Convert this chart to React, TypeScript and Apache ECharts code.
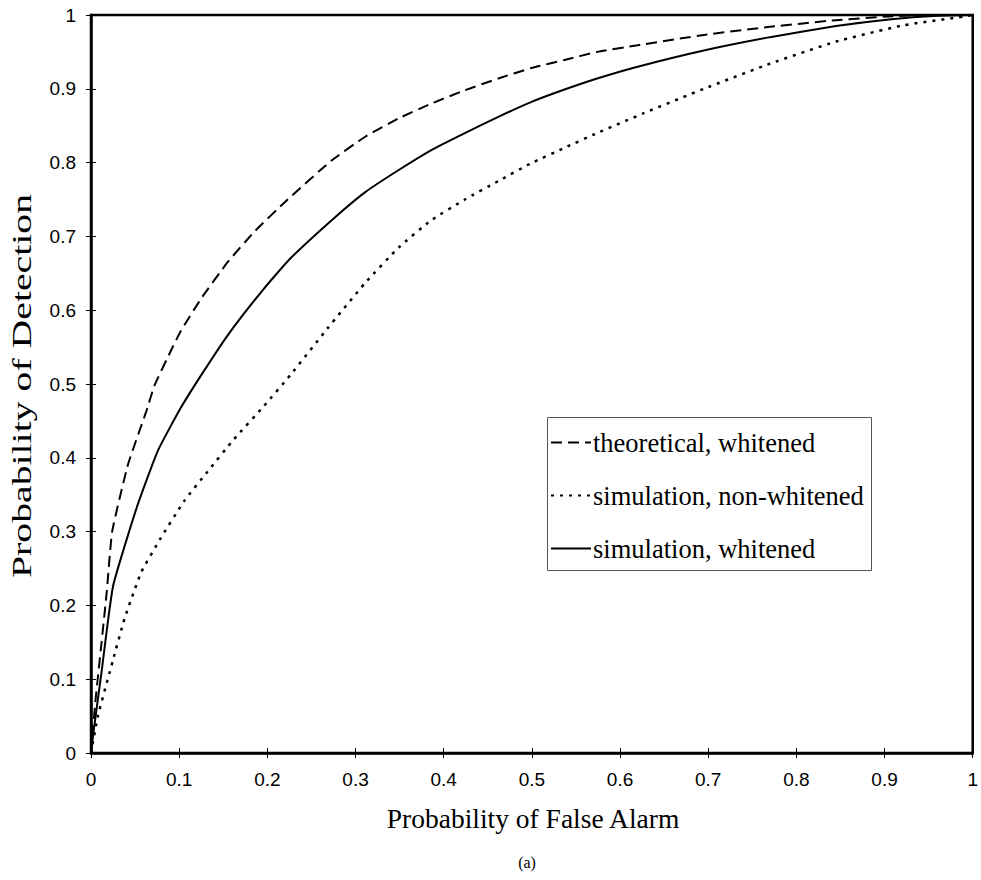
import React, { useEffect, useRef } from "react";
import * as echarts from "echarts";

// ---- data ----
const thX = [0, 0.005, 0.012, 0.018, 0.024, 0.042, 0.063, 0.072, 0.091, 0.102, 0.125, 0.155, 0.185, 0.223, 0.273, 0.311, 0.349, 0.386, 0.424, 0.462, 0.499, 0.537, 0.574, 0.62, 0.695, 0.77, 0.845, 0.905, 0.95, 1];
const thY = [0, 0.07, 0.15, 0.22, 0.3, 0.391, 0.464, 0.498, 0.546, 0.572, 0.616, 0.665, 0.706, 0.75, 0.803, 0.835, 0.86, 0.88, 0.898, 0.914, 0.928, 0.939, 0.95, 0.959, 0.973, 0.984, 0.993, 0.998, 1.0, 1];

const swX = [0, 0.003, 0.012, 0.025, 0.052, 0.076, 0.102, 0.125, 0.155, 0.196, 0.226, 0.273, 0.311, 0.349, 0.386, 0.424, 0.462, 0.499, 0.537, 0.574, 0.62, 0.695, 0.77, 0.845, 0.905, 0.96, 1];
const swY = [0, 0.03, 0.11, 0.226, 0.333, 0.41, 0.468, 0.512, 0.566, 0.629, 0.67, 0.722, 0.76, 0.79, 0.817, 0.84, 0.862, 0.882, 0.899, 0.914, 0.93, 0.952, 0.97, 0.985, 0.994, 0.999, 1];

const snX = [0, 0.008, 0.025, 0.038, 0.057, 0.078, 0.106, 0.132, 0.162, 0.196, 0.226, 0.268, 0.311, 0.349, 0.386, 0.424, 0.462, 0.499, 0.537, 0.574, 0.627, 0.695, 0.77, 0.845, 0.921, 0.99, 1];
const snY = [0, 0.051, 0.126, 0.182, 0.245, 0.289, 0.342, 0.381, 0.425, 0.47, 0.512, 0.575, 0.637, 0.685, 0.722, 0.75, 0.775, 0.799, 0.82, 0.84, 0.867, 0.9, 0.934, 0.964, 0.986, 0.998, 1];

const seriesNames = ["theoretical, whitened", "simulation, non-whitened", "simulation, whitened"];
const xTitle = "Probability of False Alarm";
const yTitle = "Probability of Detection";
const caption = "(a)";

const pairs = (xs: number[], ys: number[]) => xs.map((x, i) => [x, ys[i]]);

const SANS = "'Liberation Sans', Arial, sans-serif";
const SERIF = "'Liberation Serif', 'Times New Roman', serif";

export default function App() {
  const ref = useRef<HTMLDivElement>(null);
  useEffect(() => {
    const chart = echarts.init(ref.current!, null, { renderer: "svg" });
    const axisCommon = {
      type: "value" as const,
      min: 0,
      max: 1,
      interval: 0.1,
      splitLine: { show: false },
    };
    const lineCommon = {
      type: "line" as const,
      symbol: "none",
      smooth: 0.15,
      itemStyle: { color: "#000" },
    };
    chart.setOption({
      animation: false,
      backgroundColor: "#fff",
      grid: {
        left: 91,
        top: 15,
        right: 4,
        bottom: 127,
        show: true,
        borderColor: "#000",
        borderWidth: 2.5,
        backgroundColor: "transparent",
      },
      xAxis: [
        {
          ...axisCommon,
          position: "bottom",
          axisLine: { show: true, lineStyle: { color: "#000", width: 2.5 } },
          axisTick: { show: true, inside: false, length: 5, lineStyle: { color: "#000", width: 1 } },
          axisLabel: { color: "#000", fontFamily: SANS, fontSize: 19, margin: 17 },
        },
        {
          ...axisCommon,
          position: "bottom",
          axisLine: { show: false },
          axisTick: { show: true, inside: true, length: 5, lineStyle: { color: "#000", width: 1 } },
          axisLabel: { show: false },
        },
      ],
      yAxis: [
        {
          ...axisCommon,
          position: "left",
          axisLine: { show: true, lineStyle: { color: "#000", width: 2.5 } },
          axisTick: { show: true, inside: false, length: 5, lineStyle: { color: "#000", width: 1 } },
          axisLabel: { color: "#000", fontFamily: SANS, fontSize: 19, margin: 15 },
        },
        {
          ...axisCommon,
          position: "left",
          axisLine: { show: false },
          axisTick: { show: true, inside: true, length: 5, lineStyle: { color: "#000", width: 1 } },
          axisLabel: { show: false },
        },
      ],
      legend: {
        left: 550,
        top: 429,
        orient: "vertical",
        itemWidth: 40,
        itemHeight: 14,
        itemGap: 26,
        padding: 0,
        itemStyle: { color: "transparent", borderWidth: 0, opacity: 0 },
        textStyle: { color: "#000", fontFamily: SERIF, fontSize: 26.5, lineHeight: 27, padding: [0, 0, 0, -3] },
        data: seriesNames,
      },
      graphic: [
        {
          type: "rect",
          shape: { x: 547.5, y: 417.5, width: 324, height: 153 },
          style: { fill: "transparent", stroke: "#555", lineWidth: 1 },
          z: 1,
        },
        {
          type: "text",
          x: 21,
          y: 386,
          rotation: Math.PI / 2,
          scaleX: 1.42,
          style: { text: yTitle, fontFamily: SERIF, fontSize: 28, fill: "#000", align: "center", verticalAlign: "middle" },
        },
        {
          type: "text",
          x: 533,
          y: 818,
          style: { text: xTitle, fontFamily: SERIF, fontSize: 27.5, fill: "#000", align: "center", verticalAlign: "middle" },
        },
        {
          type: "text",
          x: 527,
          y: 862,
          style: { text: caption, fontFamily: SERIF, fontSize: 16, fill: "#000", align: "center", verticalAlign: "middle" },
        },
      ],
      series: [
        {
          ...lineCommon,
          name: seriesNames[0],
          data: pairs(thX, thY),
          lineStyle: { color: "#000", width: 2, type: [11, 6] },
        },
        {
          ...lineCommon,
          name: seriesNames[1],
          data: pairs(snX, snY),
          lineStyle: { color: "#000", width: 2.5, type: [3, 6] },
        },
        {
          ...lineCommon,
          name: seriesNames[2],
          data: pairs(swX, swY),
          lineStyle: { color: "#000", width: 2, type: "solid" },
        },
      ],
    });
    return () => chart.dispose();
  }, []);
  return (
    <div
      ref={ref}
      style={{ position: "absolute", left: 0, top: 0, width: 981, height: 880, background: "#fff" }}
    />
  );
}
